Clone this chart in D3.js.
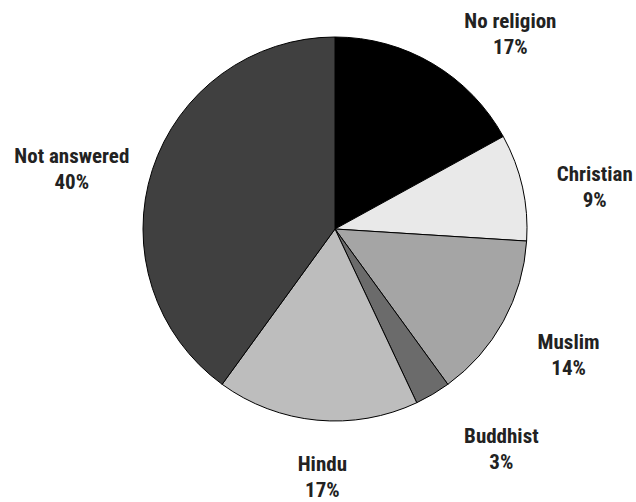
<!DOCTYPE html>
<html>
<head>
<meta charset="utf-8">
<script src="https://cdn.jsdelivr.net/npm/d3@7"></script>
<style>
  body { margin: 0; background: #fff; }
  text { font-family: "Liberation Sans Narrow", "Roboto Condensed", "DejaVu Sans Condensed", sans-serif; font-weight: bold; fill: #222; }
</style>
</head>
<body>
<div id="chart"></div>
<script>
// religion shares, clockwise from 12 o'clock
var categories = ["No religion", "Christian", "Muslim", "Buddhist", "Hindu", "Not answered"];
var values = [17, 9, 14, 3, 17, 40];
var shades = ["#000000", "#e9e9e9", "#a5a5a5", "#6b6b6b", "#bdbdbd", "#404040"];

// small nudges so labels sit where the original put them
var labelNudge = {
  "No religion": [42, 25],
  "Christian": [4, 9],
  "Muslim": [4, -6],
  "Buddhist": [33, -12],
  "Hindu": [12, -19],
  "Not answered": [-14, 15]
};

const width = 636, height = 502;
const cx = 335, cy = 229, radius = 192;

const svg = d3.select("#chart").append("svg")
  .attr("width", width)
  .attr("height", height);

const g = svg.append("g")
  .attr("transform", "translate(" + cx + "," + cy + ")");

const data = categories.map((c, i) => ({name: c, value: values[i]}));

const color = d3.scaleOrdinal()
  .domain(categories)
  .range(shades);

const pie = d3.pie()
  .value(d => d.value)
  .sort(null);

const arc = d3.arc()
  .innerRadius(0)
  .outerRadius(radius);

const labelArc = d3.arc()
  .innerRadius(262)
  .outerRadius(262);

const arcs = pie(data);

g.selectAll(".slice")
  .data(arcs)
  .enter().append("path")
    .attr("class", "slice")
    .attr("d", arc)
    .attr("fill", d => color(d.data.name))
    .attr("stroke", "#000")
    .attr("stroke-width", 1);

const labels = g.selectAll(".label")
  .data(arcs)
  .enter().append("text")
    .attr("class", "label")
    .attr("text-anchor", "middle")
    .style("font-size", "21px")
    .attr("transform", function(d) {
      let c = labelArc.centroid(d);
      let n = labelNudge[d.data.name];
      return "translate(" + (c[0] + n[0]) + "," + (c[1] + n[1]) + ")";
    });

labels.append("tspan")
  .attr("x", 0)
  .attr("dy", 0)
  .text(d => d.data.name);

labels.append("tspan")
  .attr("x", 0)
  .attr("dy", 26)
  .text(d => d.data.value + "%");
</script>
</body>
</html>
